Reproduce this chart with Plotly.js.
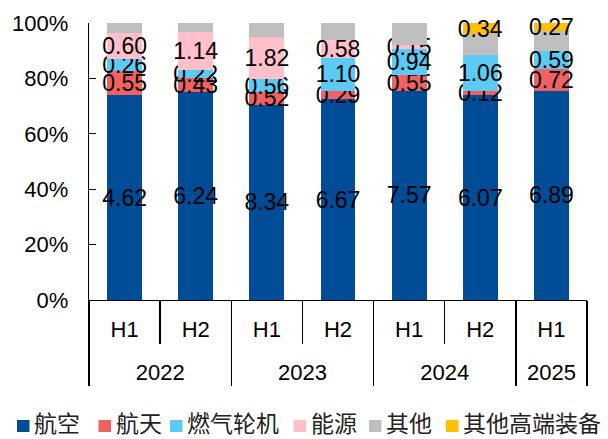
<!DOCTYPE html>
<html>
<head>
<meta charset="utf-8">
<script src="https://cdn.plot.ly/plotly-3.0.1.min.js"></script>
<style>html,body{margin:0;padding:0;background:#fff;}#chart{width:608px;height:439px;}</style>
</head>
<body>
<div id="chart"></div>
<script>
// ---- data ----
var years  = ['2022','2022','2023','2023','2024','2024','2025'];
var halves = ['H1','H2','H1','H2','H1','H2','H1'];
var seriesNames = ['航空','航天','燃气轮机','能源','其他','其他高端装备'];
var aviation   = [4.62, 6.24, 8.34, 6.67, 7.57, 6.07, 6.89];
var aerospace  = [0.55, 0.43, 0.52, 0.29, 0.55, 0.12, 0.72];
var gasTurbine = [0.26, 0.22, 0.56, 1.10, 0.94, 1.06, 0.59];
var energy     = [0.60, 1.14, 1.82, 0.58, 0.15, 0, 0];
var others     = [0.22, 0.28, 0.58, 0.57, 0.80, 0.62, 0.66]; // estimated, unlabeled
var otherHigh  = [0, 0, 0, 0, 0, 0.34, 0.27];
var yTickVals   = [0, 20, 40, 60, 80, 100];
var yTickLabels = ['0%', '20%', '40%', '60%', '80%', '100%'];

var colors = ['#004C97', '#F06262', '#5BCBF5', '#FFBFCB', '#BFBFBF', '#FFC000'];
var seriesValues = [aviation, aerospace, gasTurbine, energy, others, otherHigh];
var showLabels = [true, true, true, true, false, true];

var font = "'Liberation Sans', Arial, 'Noto Sans CJK SC', sans-serif";
var cjkFont = "'Noto Sans CJK SC', 'Liberation Sans', sans-serif";

// inner labels get a tiny empty second line so the year row sits lower (as in the reference)
var halfLabels = halves.map(function (h) { return h + '<br><span style="font-size:8px">&nbsp;</span>'; });

var traces = seriesValues.map(function (vals, i) {
  return {
    type: 'bar',
    name: seriesNames[i],
    x: [years, halfLabels],
    y: vals,
    marker: {color: colors[i], line: {width: 0}},
    text: vals.map(function (v) { return (showLabels[i] && v > 0) ? v.toFixed(2) : ''; }),
    textposition: 'inside',
    insidetextanchor: 'middle',
    textangle: 0,
    constraintext: 'none',
    textfont: {color: '#000', size: 23, family: font},
    cliponaxis: false,
    hoverinfo: 'x+y+name',
    showlegend: false
  };
});

// custom legend (positions in px, converted to paper coords)
var m = {l: 89, r: 21, t: 23, b: 139};
var plotW = 608 - m.l - m.r, plotH = 439 - m.t - m.b;
var legendSquareX = [17, 98.5, 170, 293.5, 369, 446];
var legendY = 426, legendTextY = 421.5;
var shapes = [], annotations = [];
seriesNames.forEach(function (nm, i) {
  var x0 = (legendSquareX[i] - m.l) / plotW, x1 = (legendSquareX[i] + 12.5 - m.l) / plotW;
  var y0 = 1 - (legendY - 6 - m.t) / plotH, y1 = 1 - (legendY + 6 - m.t) / plotH;
  shapes.push({type: 'rect', xref: 'paper', yref: 'paper', x0: x0, x1: x1, y0: y0, y1: y1,
    fillcolor: colors[i], line: {width: 0}});
  annotations.push({xref: 'paper', yref: 'paper', x: (legendSquareX[i] + 16 - m.l) / plotW,
    y: 1 - (legendTextY - m.t) / plotH, xanchor: 'left', yanchor: 'middle', showarrow: false,
    borderpad: 0,
    text: nm, font: {family: cjkFont, size: 23, color: '#222'}});
});

var layout = {
  width: 608, height: 439,
  margin: m,
  barmode: 'stack',
  barnorm: 'percent',
  bargap: 0.51,
  paper_bgcolor: '#fff', plot_bgcolor: '#fff',
  font: {family: font, size: 22, color: '#000'},
  showlegend: false,
  xaxis: {
    type: 'multicategory',
    showline: true, linecolor: '#000', linewidth: 1.3,
    ticks: 'outside', ticklen: 43, tickcolor: '#000', tickwidth: 1.3,
    tickson: 'boundaries',
    showdividers: true, dividercolor: '#000', dividerwidth: 1.3,
    tickfont: {size: 22, family: font, color: '#000'},
    ticklabelstandoff: 9,
    showgrid: false, zeroline: false
  },
  yaxis: {
    range: [0, 100], tickmode: 'array', tickvals: yTickVals, ticktext: yTickLabels,
    showline: true, linecolor: '#000', linewidth: 1.3,
    ticks: 'inside', ticklen: 7, tickcolor: '#000', tickwidth: 1.3,
    tickfont: {size: 22, family: font, color: '#000'},
    ticklabelstandoff: 15,
    showgrid: false, zeroline: false
  },
  shapes: shapes,
  annotations: annotations
};

Plotly.newPlot('chart', traces, layout, {staticPlot: true, displayModeBar: false});
</script>
</body>
</html>
